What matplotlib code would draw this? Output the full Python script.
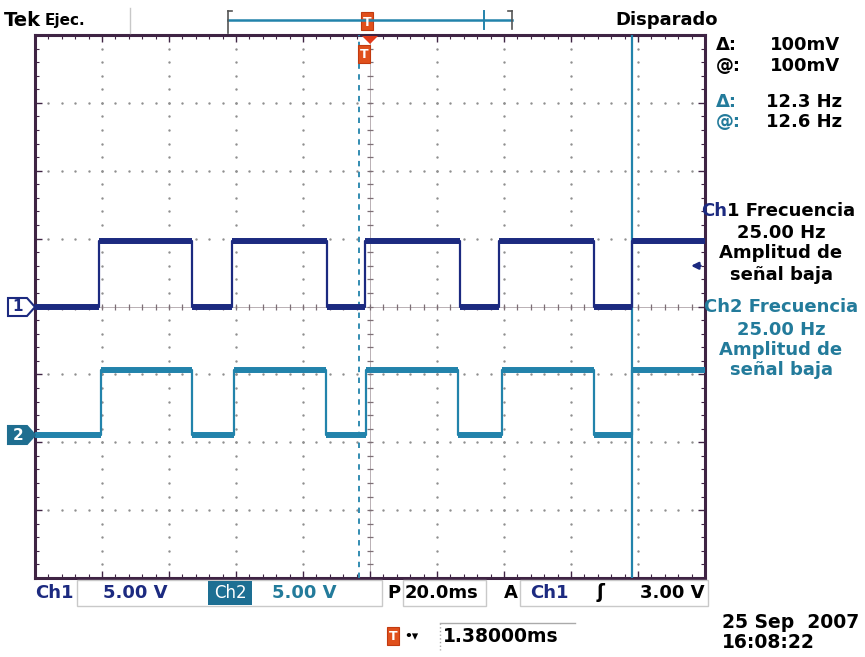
import numpy as np
import matplotlib
matplotlib.use('Agg')
import matplotlib.pyplot as plt
from matplotlib.patches import Rectangle, Polygon
from matplotlib.lines import Line2D

# captura del osciloscopio: 20 ms/div, 5 V/div en ambos canales
ms_per_div = 20.0
v_per_div = 5.0

# flancos de Ch1 (ms) y nivel (V) que empieza en cada instante
ch1_t = [-100, -80.8, -53.2, -41.1, -12.9, -1.4, 26.9, 38.6, 66.9, 78.1, 100]
ch1_v = [0.0, 4.8, 0.0, 4.8, 0.0, 4.8, 0.0, 4.8, 0.0, 4.8, 4.8]
ch2_t = [-100, -80.4, -53.1, -40.5, -13.1, -1.2, 26.3, 39.3, 66.9, 78.1, 100]
ch2_v = [0.0, 4.8, 0.0, 4.8, 0.0, 4.8, 0.0, 4.8, 0.0, 4.8, 4.8]
ch1_pos = 0.0    # divisiones
ch2_pos = -1.9
trig_level = 3.0
cursor_t = [-3.2, 78.1]

NAVY = '#1c2a80'
TEAL = '#2283ab'
TEAL_TXT = '#237b9b'
BORDER = '#3f2444'
GRID = '#8f8f8f'

W, H = 865, 657
fig = plt.figure(figsize=(W / 100, H / 100), dpi=100)
fig.patch.set_facecolor('white')


def fx(x):
    return x / W


def fy(y):
    return 1 - y / H


def txt(x, y, s, color='black', size=13, ha='left', weight='bold', **kw):
    return fig.text(fx(x), fy(y), s, color=color, fontsize=size, ha=ha, va='center',
                    fontweight=weight, family='DejaVu Sans', **kw)


# reticula
ax = fig.add_axes([fx(35), fy(578), fx(705) - fx(35), fy(35) - fy(578)])
ax.set_xlim(-100, 100)
ax.set_ylim(-4, 4)
for s in ax.spines.values():
    s.set_color(BORDER)
    s.set_linewidth(2.2)
ax.set_xticks(np.arange(-100, 101, 20))
ax.set_xticks(np.arange(-100, 101, 4), minor=True)
ax.set_yticks(np.arange(-4, 5, 1))
ax.set_yticks(np.arange(-4, 4.01, 0.2), minor=True)
ax.tick_params(which='both', direction='in', top=True, right=True,
               labelbottom=False, labelleft=False, color=BORDER)
ax.tick_params(which='major', length=5, width=1)
ax.tick_params(which='minor', length=3, width=0.8)

minor_x = np.arange(-96, 100, 4)
minor_y = np.arange(-3.8, 4, 0.2)
for xv in np.arange(-80, 81, 20):
    if xv == 0:
        continue
    ax.scatter(np.full(minor_y.size, xv), minor_y, s=3, color=GRID, lw=0, zorder=1)
for yv in range(-3, 4):
    if yv == 0:
        continue
    ax.scatter(minor_x, np.full(minor_x.size, yv), s=3, color=GRID, lw=0, zorder=1)

# ejes centrales con marcas
ax.axvline(0, color='#b9b0b4', lw=0.7, zorder=1)
ax.axhline(0, color='#b9b0b4', lw=0.7, zorder=1)
ax.scatter(np.zeros(minor_y.size), minor_y, marker='_', s=25, color='#7d6f76', lw=0.9, zorder=1)
ax.scatter(minor_x, np.zeros(minor_x.size), marker='|', s=25, color='#7d6f76', lw=0.9, zorder=1)


# trazas: flancos finos, niveles gruesos
def trace(t, v, pos, color):
    y = np.array(v) / v_per_div + pos
    ax.step(t, y, where='post', color=color, lw=1.6, zorder=4)
    ax.hlines(y[:-1], t[:-1], t[1:], color=color, lw=4.3, zorder=4)


trace(ch1_t, ch1_v, ch1_pos, NAVY)
trace(ch2_t, ch2_v, ch2_pos, TEAL)

# cursores
ax.axvline(cursor_t[0], color=TEAL, lw=1.3, ls=(0, (3, 3)), zorder=3)
ax.axvline(cursor_t[1], color=TEAL, lw=1.6, zorder=3)

# nivel de disparo
ax.annotate('', xy=(95, trig_level / v_per_div + ch1_pos), xytext=(99.5, trig_level / v_per_div + ch1_pos),
            arrowprops=dict(arrowstyle='-|>', color=NAVY, lw=1.8, mutation_scale=10))


# marcadores de canal
def ch_marker(y, label, filled, color):
    yc = fy(y)
    pts = [(fx(8), yc + 9 / H), (fx(27), yc + 9 / H), (fx(35), yc),
           (fx(27), yc - 9 / H), (fx(8), yc - 9 / H)]
    fig.patches.append(Polygon(pts, closed=True, transform=fig.transFigure,
                               facecolor=color if filled else 'white', edgecolor=color, lw=1.5))
    txt(18, y, label, color='white' if filled else color, size=11, ha='center')


ch_marker(307, '1', False, NAVY)
ch_marker(435, '2', True, '#1f6e90')

# barra superior
txt(4, 20, 'Tek', size=14)
txt(45, 21, 'Ejec.', size=11)
fig.lines.append(Line2D([fx(130), fx(130)], [fy(8), fy(33)], transform=fig.transFigure, color='#c8c8c8', lw=1))
fig.lines.append(Line2D([fx(228), fx(512)], [fy(20), fy(20)], transform=fig.transFigure, color=TEAL, lw=1.8))
fig.lines.append(Line2D([fx(228), fx(228)], [fy(11), fy(33)], transform=fig.transFigure, color='#555555', lw=1.2))
fig.lines.append(Line2D([fx(228), fx(232)], [fy(11), fy(11)], transform=fig.transFigure, color='#555555', lw=1.2))
fig.lines.append(Line2D([fx(484), fx(484)], [fy(11), fy(29)], transform=fig.transFigure, color=TEAL, lw=1.4))
fig.lines.append(Line2D([fx(512), fx(512)], [fy(11), fy(29)], transform=fig.transFigure, color='#555555', lw=1.2))
fig.lines.append(Line2D([fx(508), fx(512)], [fy(11), fy(11)], transform=fig.transFigure, color='#555555', lw=1.2))


# iconos de disparo
def trig_icon(x, y):
    fig.patches.append(Rectangle((fx(x - 6), fy(y + 9)), 12 / W, 18 / H, transform=fig.transFigure,
                                 facecolor='#e0501c', edgecolor='#c23a10', lw=0.8))
    txt(x, y + 1, 'T', color='white', size=9, ha='center')


trig_icon(367, 21)
fig.patches.append(Polygon([(fx(362), fy(36)), (fx(378), fy(36)), (fx(370), fy(44))], closed=True,
                           transform=fig.transFigure, facecolor='#e23a1a', edgecolor='none'))
trig_icon(364, 54)

txt(615, 20, 'Disparado', size=13)

# lecturas de cursores
txt(716, 45, 'Δ:')
txt(770, 45, '100mV')
txt(716, 66, '@:')
txt(770, 66, '100mV')
txt(716, 102, 'Δ:', color=TEAL_TXT)
txt(766, 102, '12.3 Hz')
txt(716, 122, '@:', color=TEAL_TXT)
txt(766, 122, '12.6 Hz')

# medidas
ch_txt = txt(701, 211, 'Ch', color=NAVY)
fig.canvas.draw()
bb = ch_txt.get_window_extent()
fig.text(bb.x1 / W, fy(211), '1 Frecuencia', color='black', fontsize=13, va='center',
         fontweight='bold', family='DejaVu Sans')
txt(781, 233, '25.00 Hz', ha='center')
txt(781, 253, 'Amplitud de', ha='center')
txt(781, 275, 'señal baja', ha='center')
txt(781, 307, 'Ch2 Frecuencia', color=TEAL_TXT, ha='center')
txt(781, 330, '25.00 Hz', color=TEAL_TXT, ha='center')
txt(781, 350, 'Amplitud de', color=TEAL_TXT, ha='center')
txt(781, 370, 'señal baja', color=TEAL_TXT, ha='center')

# barra inferior
for x0, x1 in [(77, 382), (403, 486), (520, 708)]:
    fig.patches.append(Rectangle((fx(x0), fy(606)), (x1 - x0) / W, 26 / H, transform=fig.transFigure,
                                 facecolor='none', edgecolor='#c9c9c9', lw=1))
txt(35, 593, 'Ch1', color=NAVY)
txt(103, 593, '5.00 V', color=NAVY)
fig.patches.append(Rectangle((fx(208), fy(605)), 44 / W, 24 / H, transform=fig.transFigure,
                             facecolor='#1d6f93', edgecolor='none'))
txt(230, 593, 'Ch2', color='white', size=12, ha='center', weight='normal')
txt(272, 593, '5.00 V', color=TEAL_TXT)
txt(387, 593, 'P')
txt(405, 593, '20.0ms')
txt(504, 593, 'A')
txt(530, 593, 'Ch1', color=NAVY)
txt(600, 593, 'ʃ', size=13.5, ha='center')
txt(640, 593, '3.00 V')

trig_icon(393, 636)
txt(404, 636, '•▾', size=9)
fig.lines.append(Line2D([fx(440), fx(575)], [fy(623), fy(623)], transform=fig.transFigure, color='#aaaaaa', lw=1))
fig.lines.append(Line2D([fx(440), fx(440)], [fy(623), fy(650)], transform=fig.transFigure, color='#aaaaaa', lw=1, ls=':'))
txt(443, 636, '1.38000ms', size=13.5)
txt(722, 622, '25 Sep  2007', size=13.5)
txt(722, 643, '16:08:22', size=13.5)

fig.savefig('out.png', dpi=100)
